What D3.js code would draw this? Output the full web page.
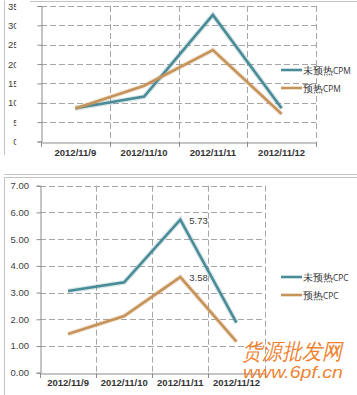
<!DOCTYPE html>
<html><head><meta charset="utf-8">
<script src="https://cdn.jsdelivr.net/npm/d3@7/dist/d3.min.js"></script>
<style>
html,body{margin:0;padding:0;background:#fff;}
svg{display:block;}
text{font-family:"Liberation Sans","DejaVu Sans",sans-serif;}
</style></head>
<body>
<svg id="c" width="357" height="395"></svg>
<script>
const categories = ["2012/11/9","2012/11/10","2012/11/11","2012/11/12"];
const cpmNoWarm = [8.6, 11.6, 32.7, 8.6];
const cpmWarm = [8.5, 14.4, 23.6, 7.1];
const cpmTicks = [0,5,10,15,20,25,30,35];
const cpcNoWarm = [3.06, 3.38, 5.73, 1.87];
const cpcWarm = [1.45, 2.12, 3.58, 1.16];
const cpcTicks = [0,1,2,3,4,5,6,7];
const cpmNames = ["未预热CPM","预热CPM"];
const cpcNames = ["未预热CPC","预热CPC"];
const cpcLabels = [{series:0, idx:2, text:"5.73"},{series:1, idx:2, text:"3.58"}];

const BLUE = "#4a8b98", ORANGE = "#c69359";
const GRID = "#a6a6a6", AXIS = "#8c8c8c", TXT = "#404040", FRAME = "#c4c4c4";
const FONT = '"Open Sans","DejaVu Sans",sans-serif';
const svg = d3.select("#c");

// frames
svg.append("path").attr("d","M4.5,155 V0.5 M30,1.5 H357 M4,174.5 H357")
  .attr("stroke",FRAME).attr("fill","none");
svg.append("path").attr("d","M4.5,395 V177.5 H357")
  .attr("stroke",FRAME).attr("fill","none");

let clipId = 0;
function drawChart(cfg){
  const g = svg.append("g");
  const x = d3.scaleBand().domain(categories).range(cfg.xr);
  const y = d3.scaleLinear().domain([cfg.ticks[0], cfg.ticks[cfg.ticks.length-1]]).range(cfg.yr);
  // horizontal grid
  g.selectAll(".hg").data(cfg.ticks.slice(1)).join("line")
    .attr("x1",cfg.xr[0]).attr("x2",cfg.xr[1])
    .attr("y1",d=>Math.round(y(d))+0.5).attr("y2",d=>Math.round(y(d))+0.5)
    .attr("stroke",GRID).attr("stroke-dasharray","6,3");
  // vertical grid
  g.selectAll(".vg").data(categories).join("line")
    .attr("x1",d=>Math.round(x(d)+x.bandwidth())+0.5).attr("x2",d=>Math.round(x(d)+x.bandwidth())+0.5)
    .attr("y1",cfg.yr[1]).attr("y2",cfg.yr[0])
    .attr("stroke",GRID).attr("stroke-dasharray","6,3");
  // y axis (lines only)
  const ya = d3.axisLeft(y).tickValues(cfg.ticks).tickSize(4).tickFormat("");
  const yg = g.append("g").attr("transform",`translate(${Math.round(cfg.xr[0])+0.5},0)`).call(ya);
  yg.select(".domain").attr("stroke",AXIS);
  yg.selectAll(".tick line").attr("stroke",AXIS);
  // y labels, optionally clipped at left
  const lg = svg.append("g");
  if(cfg.clip){
    const id = "clip"+(clipId++);
    svg.append("clipPath").attr("id",id).append("rect").attr("x",0).attr("y",0).attr("width",cfg.clip).attr("height",395);
    lg.attr("clip-path",`url(#${id})`);
  }
  lg.selectAll("text").data(cfg.ticks).join("text")
    .attr("x",cfg.ylx).attr("y",d=>y(d)+3.5).attr("text-anchor","end")
    .attr("fill",TXT).attr("font-size",cfg.yfs).attr("font-family",FONT).text(cfg.fmt);
  // x axis
  const xa = d3.axisBottom(x).tickSize(0).tickFormat(d=>d);
  const xg = g.append("g").attr("transform",`translate(0,${Math.round(cfg.yr[0])+0.5})`).call(xa);
  xg.select(".domain").attr("stroke",AXIS);
  xg.selectAll(".tick text").attr("fill","#333").attr("font-size",cfg.xfs).attr("dy",0).attr("y",cfg.xly)
    .attr("font-weight",600).attr("font-family",FONT);
  // x ticks at band boundaries
  const bounds = [x.range()[0]].concat(categories.map(d=>x(d)+x.bandwidth()));
  g.selectAll(".xt").data(bounds).join("line")
    .attr("x1",d=>Math.round(d)+0.5).attr("x2",d=>Math.round(d)+0.5)
    .attr("y1",Math.round(cfg.yr[0])).attr("y2",Math.round(cfg.yr[0])+5).attr("stroke",AXIS);
  // lines
  const line = d3.line().x((d,i)=>x(categories[i])+x.bandwidth()/2).y(d=>y(d));
  cfg.series.forEach((s,k)=>{
    g.append("path").datum(s).attr("d",line).attr("fill","none")
      .attr("stroke",[BLUE,ORANGE][k]).attr("stroke-opacity",0.22).attr("stroke-width",5);
    g.append("path").datum(s).attr("d",line).attr("fill","none")
      .attr("stroke",[BLUE,ORANGE][k]).attr("stroke-width",2.6);
  });
  // legend
  cfg.names.forEach((n,k)=>{
    const ly = cfg.legY[k];
    g.append("line").attr("x1",cfg.legX).attr("x2",cfg.legX+21).attr("y1",ly).attr("y2",ly)
      .attr("stroke",[BLUE,ORANGE][k]).attr("stroke-width",2.6);
    const t = g.append("text").attr("x",cfg.legX+22).attr("y",ly+4).attr("fill","#333")
      .attr("font-family",'"Noto Sans CJK SC",sans-serif').attr("font-size",10);
    const m = n.match(/^([^A-Z]+)([A-Z]+)$/);
    t.append("tspan").text(m[1]);
    t.append("tspan").attr("font-size",8.3).attr("font-family",FONT).text(m[2]);
  });
  // data labels
  (cfg.labels||[]).forEach(l=>{
    const v = cfg.series[l.series][l.idx];
    g.append("text").attr("x",x(categories[l.idx])+x.bandwidth()/2+9).attr("y",y(v)+4)
      .attr("fill",TXT).attr("font-size",9.5).attr("font-family",FONT).text(l.text);
  });
}

drawChart({xr:[41,316], yr:[141.5,6], ticks:cpmTicks, fmt:d3.format("d"), series:[cpmNoWarm,cpmWarm],
  names:cpmNames, legX:281, legY:[70,88], ylx:18.5, yfs:9.5, xfs:9.5, xly:13, clip:16.3});
drawChart({xr:[40,264.5], yr:[372.7,185.7], ticks:cpcTicks, fmt:d3.format(".2f"), series:[cpcNoWarm,cpcWarm],
  names:cpcNames, legX:281, legY:[277,295], ylx:29, yfs:9.5, xfs:9.5, xly:12, labels:cpcLabels});

// watermark (overlaps the last x label, as in the reference)
const wm = svg.append("g").attr("fill","#ee7a1e").attr("fill-opacity",0.95);
wm.append("text").attr("x",242).attr("y",359).attr("font-size",22).attr("font-style","italic")
  .attr("font-family",'"Noto Sans CJK SC",sans-serif').attr("textLength",100).attr("lengthAdjust","spacingAndGlyphs").text("货源批发网");
wm.append("text").attr("x",243).attr("y",378).attr("font-size",16).attr("font-style","italic")
  .attr("font-family",'"DejaVu Serif",serif').attr("textLength",100).attr("lengthAdjust","spacingAndGlyphs").text("www.6pf.cn");
</script>
</body></html>
